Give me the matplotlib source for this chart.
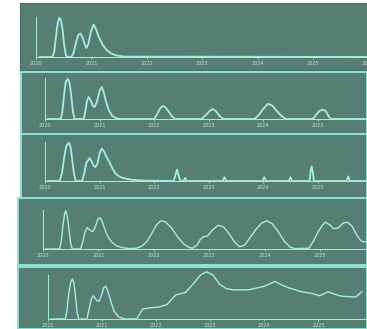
import matplotlib
matplotlib.use("Agg")
import matplotlib.pyplot as plt

# --- data (year, relative level) ---
years = [2020, 2021, 2022, 2023, 2024, 2025, 2026]

p1_t = [2020.07, 2020.30, 2020.33, 2020.36, 2020.39, 2020.42, 2020.45, 2020.48, 2020.51, 2020.54, 2020.56,
        2020.64, 2020.68, 2020.72, 2020.76, 2020.80, 2020.84, 2020.88, 2020.91, 2020.95, 2020.99, 2021.04,
        2021.08, 2021.13, 2021.20, 2021.28, 2021.36, 2021.45, 2021.6, 2026.5]
p1_v = [0, 0, 0.15, 0.5, 0.85, 1.0, 0.95, 0.7, 0.3, 0.05, 0,
        0, 0.12, 0.35, 0.55, 0.6, 0.5, 0.32, 0.23, 0.35, 0.65, 0.83,
        0.72, 0.52, 0.32, 0.17, 0.09, 0.04, 0.01, 0]

p2_t = [2020.05, 2020.29, 2020.32, 2020.35, 2020.38, 2020.42, 2020.45, 2020.48, 2020.51, 2020.54,
        2020.71, 2020.74, 2020.77, 2020.80, 2020.84, 2020.88, 2020.91, 2020.95, 2021.00, 2021.04,
        2021.08, 2021.12, 2021.17, 2021.23, 2021.30, 2021.40,
        2022.00, 2022.05, 2022.10, 2022.15, 2022.20, 2022.26, 2022.32, 2022.38,
        2022.87, 2022.95, 2023.02, 2023.07, 2023.13, 2023.20, 2023.27,
        2023.84, 2023.92, 2024.00, 2024.09, 2024.17, 2024.25, 2024.34, 2024.42,
        2024.91, 2024.97, 2025.03, 2025.09, 2025.15, 2025.20, 2025.24, 2026.5]
p2_v = [0, 0, 0.2, 0.6, 0.92, 1.0, 0.9, 0.6, 0.2, 0,
        0, 0.2, 0.45, 0.55, 0.45, 0.32, 0.3, 0.42, 0.7, 0.8,
        0.65, 0.42, 0.22, 0.08, 0.02, 0,
        0, 0.1, 0.24, 0.32, 0.3, 0.2, 0.08, 0,
        0, 0.1, 0.2, 0.25, 0.2, 0.08, 0,
        0, 0.1, 0.25, 0.38, 0.33, 0.2, 0.07, 0,
        0, 0.1, 0.2, 0.23, 0.2, 0.07, 0, 0]

p3_t = [2020.05, 2020.27, 2020.31, 2020.35, 2020.39, 2020.44, 2020.47, 2020.50, 2020.53, 2020.56,
        2020.68, 2020.72, 2020.76, 2020.82, 2020.86, 2020.89, 2020.92, 2020.96, 2021.00, 2021.04,
        2021.08, 2021.12, 2021.18, 2021.24, 2021.29, 2021.35, 2021.42, 2021.6, 2021.8,
        2022.36, 2022.39, 2022.42, 2022.45, 2022.48, 2022.54, 2022.57, 2022.60,
        2023.26, 2023.29, 2023.32, 2023.99, 2024.02, 2024.05, 2024.47, 2024.50, 2024.53,
        2024.85, 2024.87, 2024.89, 2024.91, 2024.93, 2025.53, 2025.56, 2025.59, 2026.5]
p3_v = [0, 0, 0.2, 0.6, 0.92, 1.0, 0.88, 0.55, 0.2, 0,
        0, 0.2, 0.48, 0.6, 0.5, 0.4, 0.36, 0.45, 0.72, 0.85,
        0.78, 0.65, 0.5, 0.32, 0.2, 0.13, 0.08, 0.03, 0.01,
        0, 0.15, 0.3, 0.15, 0, 0, 0.08, 0,
        0, 0.1, 0, 0, 0.1, 0, 0, 0.1, 0,
        0, 0.25, 0.38, 0.25, 0, 0, 0.12, 0, 0]

p4_t = [2020.05, 2020.30, 2020.33, 2020.36, 2020.39, 2020.41, 2020.44, 2020.47, 2020.50, 2020.53,
        2020.68, 2020.72, 2020.76, 2020.80, 2020.84, 2020.88, 2020.91, 2020.95, 2020.99, 2021.03,
        2021.07, 2021.12, 2021.18, 2021.25, 2021.33, 2021.45, 2021.57, 2021.68,
        2021.78, 2021.88, 2021.97, 2022.05, 2022.13, 2022.22, 2022.32, 2022.44, 2022.55, 2022.64, 2022.70,
        2022.78, 2022.84, 2022.90, 2022.97, 2023.05, 2023.16, 2023.26, 2023.36, 2023.46, 2023.55,
        2023.64, 2023.74, 2023.85, 2023.95, 2024.04, 2024.14, 2024.25, 2024.36, 2024.46, 2024.55,
        2024.80, 2024.88, 2024.97, 2025.05, 2025.10, 2025.18, 2025.25, 2025.33, 2025.42, 2025.50,
        2025.58, 2025.66, 2025.72, 2025.77, 2025.85]
p4_v = [0, 0, 0.2, 0.62, 0.92, 1.0, 0.85, 0.5, 0.15, 0,
        0, 0.2, 0.45, 0.56, 0.5, 0.46, 0.47, 0.6, 0.78, 0.82,
        0.72, 0.5, 0.3, 0.17, 0.08, 0.03, 0.01, 0.02,
        0.07, 0.2, 0.42, 0.63, 0.74, 0.7, 0.55, 0.3, 0.12, 0.04, 0.02,
        0.1, 0.25, 0.32, 0.34, 0.48, 0.62, 0.58, 0.4, 0.18, 0.06,
        0.1, 0.3, 0.52, 0.68, 0.74, 0.66, 0.45, 0.2, 0.05, 0.01,
        0.02, 0.2, 0.45, 0.63, 0.7, 0.63, 0.53, 0.55, 0.68, 0.7,
        0.6, 0.38, 0.25, 0.19, 0.19]

p5_t = [2020.05, 2020.32, 2020.35, 2020.38, 2020.42, 2020.45, 2020.48, 2020.51, 2020.54, 2020.57,
        2020.72, 2020.76, 2020.80, 2020.84, 2020.88, 2020.92, 2020.95, 2020.99, 2021.03, 2021.07,
        2021.11, 2021.16, 2021.22, 2021.30, 2021.42, 2021.64,
        2021.75, 2021.90, 2022.05, 2022.20, 2022.36, 2022.54, 2022.70, 2022.82, 2022.93, 2023.05,
        2023.18, 2023.30, 2023.42, 2023.72, 2024.00, 2024.20, 2024.32, 2024.45, 2024.69, 2024.88,
        2025.02, 2025.18, 2025.30, 2025.42, 2025.69, 2025.80]
p5_v = [0, 0, 0.2, 0.6, 0.92, 1.0, 0.9, 0.55, 0.15, 0,
        0, 0.25, 0.5, 0.58, 0.5, 0.44, 0.45, 0.6, 0.78, 0.82,
        0.68, 0.45, 0.2, 0.06, 0, 0,
        0.25, 0.28, 0.3, 0.36, 0.6, 0.66, 0.9, 1.1, 1.18, 1.1,
        0.86, 0.76, 0.73, 0.73, 0.82, 0.94, 0.85, 0.78, 0.68, 0.64,
        0.58, 0.68, 0.62, 0.57, 0.55, 0.68]

series = [(p1_t, p1_v), (p2_t, p2_v), (p3_t, p3_v), (p4_t, p4_v), (p5_t, p5_v)]

# --- layout, in pixels of the 367x329 image ---
W, H = 367, 329
outer = [(20, 3, 367, 70), (21, 72, 367, 134), (21, 134, 367, 198), (18, 198, 367, 265), (18, 267, 367, 329)]
# inner plot: left spine x, top y, baseline y, pixel of year 2020, pixels per year, ymax
inner = [(36, 17, 57, 32, 56, 1.02), (45, 78, 119, 42, 55, 1.02), (45, 142, 181, 42, 55, 1.02),
         (43, 210, 249, 39, 56, 1.02), (48, 275, 319, 42, 55, 1.1)]

bg = "#567e72"
frame = "#8fe0cf"
line = "#a6eedb"
text = "#c4e4d9"


def px_axes(fig, x0, y0, x1, y1):
    return fig.add_axes([x0 / W, 1 - y1 / H, (x1 - x0) / W, (y1 - y0) / H])


fig = plt.figure(figsize=(W / 100, H / 100), dpi=100, facecolor="white")

for i, ((t, v), box, (xl, yt, yb, x20, ppy, ymax)) in enumerate(zip(series, outer, inner)):
    # panel background + frame
    back = px_axes(fig, *box)
    back.set_facecolor(bg)
    back.set_xticks([])
    back.set_yticks([])
    for s in back.spines.values():
        s.set_color("#4d7066" if i == 0 else frame)
        s.set_linewidth(0.8 if i == 0 else 1.4)

    # the plot itself
    xr = 400
    ax = px_axes(fig, xl, yt, xr, yb)
    ax.patch.set_alpha(0)
    ax.plot(t, v, color=line, lw=1.0 if i in (3, 4) else 1.3, clip_on=False)
    ax.set_xlim(2020 + (xl - x20) / ppy, 2020 + (xr - x20) / ppy)
    ax.set_ylim(0, ymax)
    ax.spines[["top", "right"]].set_visible(False)
    for s in ("left", "bottom"):
        ax.spines[s].set_color(line)
        ax.spines[s].set_linewidth(0.7)
    ax.set_yticks([])
    ax.set_xticks(years)
    ax.set_xticklabels([str(y) for y in years])
    ax.tick_params(axis="x", length=1.5, width=0.6, color=line, pad=1.2,
                   labelsize=3.5, labelcolor=text)

fig.savefig("out.png", dpi=100, facecolor="white")
